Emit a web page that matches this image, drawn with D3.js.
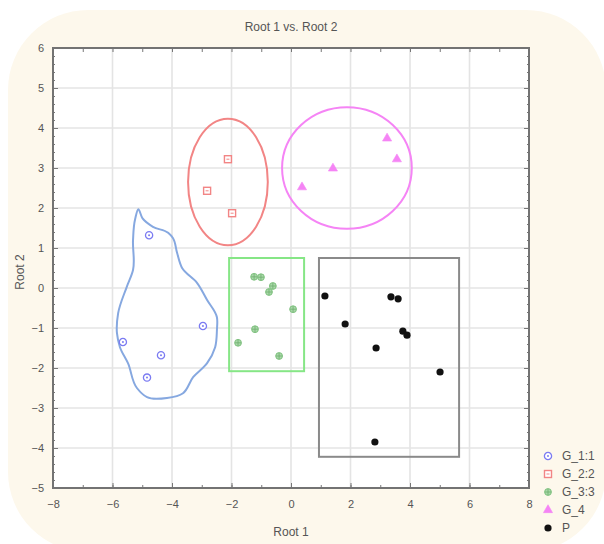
<!DOCTYPE html>
<html><head><meta charset="utf-8">
<script src="https://cdn.jsdelivr.net/npm/d3@7"></script>
<style>body{margin:0;background:#fff}svg{display:block}</style>
</head><body><svg id="c" width="604" height="544"></svg>
<script>
// ---- data ----
const title = "Root 1 vs. Root 2";
const xLabel = "Root 1";
const yLabel = "Root 2";
const xTickValues = [-8, -6, -4, -2, 0, 2, 4, 6, 8];
const yTickValues = [-5, -4, -3, -2, -1, 0, 1, 2, 3, 4, 5, 6];
const seriesNames = ["G_1:1", "G_2:2", "G_3:3", "G_4", "P"];
const g1 = [[-4.77, 1.32], [-2.96, -0.95], [-5.65, -1.35], [-4.37, -1.68], [-4.84, -2.24]];
const g2 = [[-2.12, 3.22], [-2.82, 2.43], [-1.98, 1.87]];
const g3 = [[-1.24, 0.28], [-1.01, 0.27], [-0.61, 0.05], [-0.74, -0.10], [0.07, -0.53], [-1.21, -1.03], [-1.78, -1.37], [-0.40, -1.70]];
const g4 = [[3.23, 3.74], [3.56, 3.22], [1.41, 2.99], [0.37, 2.52]];
const gP = [[1.14, -0.20], [3.36, -0.22], [3.60, -0.27], [1.82, -0.90], [3.76, -1.08], [3.90, -1.18], [2.86, -1.50], [5.01, -2.10], [2.82, -3.85]];
// hand-drawn enclosures (data units)
const blueOutline = [[-5.13,1.97],[-4.99,1.74],[-4.64,1.53],[-4.13,1.38],[-3.97,1.25],[-3.83,0.88],[-3.66,0.50],[-3.16,0.13],[-2.82,-0.30],[-2.49,-0.73],[-2.49,-1.05],[-2.55,-1.48],[-2.82,-1.88],[-3.29,-2.23],[-3.63,-2.63],[-4.17,-2.75],[-4.84,-2.73],[-5.18,-2.50],[-5.48,-1.88],[-5.75,-1.48],[-5.85,-1.13],[-5.81,-0.63],[-5.52,0.03],[-5.31,0.45],[-5.31,1.20],[-5.24,1.72]];
const redEllipse = [-2.12, 2.65, 1.34, 1.58];      // cx, cy, rx, ry
const pinkEllipse = [1.88, 3.0, 2.18, 1.52];
const greenRect = [-2.08, 0.75, 0.44, -2.08];      // x0, y0, x1, y1
const blackRect = [0.94, 0.75, 5.65, -4.22];

// ---- layout ----
const svg = d3.select("#c");
const FONT = "'Liberation Sans Narrow','Liberation Sans',Arial,sans-serif";
const L = 53, R = 529, T = 48, B = 488;
const x = d3.scaleLinear().domain([-8, 8]).range([L, R]);
const y = d3.scaleLinear().domain([-5, 6]).range([B, T]);

// cream rounded background
svg.append("rect").attr("x", 8).attr("y", 10).attr("width", 598).attr("height", 542)
  .attr("rx", 80).attr("ry", 80).attr("fill", "#fdf8ec");

svg.append("rect").attr("x", L).attr("y", T).attr("width", R - L).attr("height", B - T).attr("fill", "#fff");

// grid
const gridC = "#e4e4e4";
svg.append("g").selectAll("line").data(xTickValues.slice(1, -1)).join("line")
  .attr("x1", d => x(d)).attr("x2", d => x(d)).attr("y1", T).attr("y2", B)
  .attr("stroke", gridC).attr("stroke-width", 1.6);
svg.append("g").selectAll("line").data(yTickValues.slice(1, -1)).join("line")
  .attr("y1", d => y(d)).attr("y2", d => y(d)).attr("x1", L).attr("x2", R)
  .attr("stroke", gridC).attr("stroke-width", 1.6);

// axes
const tickC = "#777", txtC = "#555";
function styleAxis(g) {
  g.select(".domain").remove();
  g.selectAll(".tick line").attr("stroke", tickC).attr("stroke-width", 1);
  g.selectAll("text").attr("fill", txtC).attr("font-family", FONT).attr("font-size", 11);
}
const xMinor = d3.range(-8, 8.01, 1);
const yMinor = d3.range(-5, 6.01, 0.2);
svg.append("g").attr("transform", `translate(0,${B})`)
  .call(d3.axisBottom(x).tickValues(xMinor).tickSize(-3).tickFormat(""))
  .call(styleAxis);
svg.append("g").attr("transform", `translate(0,${B})`)
  .call(d3.axisBottom(x).tickValues(xTickValues).tickSize(-5).tickPadding(12).tickFormat(d3.format("d")))
  .call(styleAxis);
svg.append("g").attr("transform", `translate(0,${T})`)
  .call(d3.axisTop(x).tickValues(xMinor).tickSize(-4).tickFormat(""))
  .call(styleAxis);
svg.append("g").attr("transform", `translate(${L},0)`)
  .call(d3.axisLeft(y).tickValues(yMinor).tickSize(-2).tickFormat(""))
  .call(styleAxis);
svg.append("g").attr("transform", `translate(${L},0)`)
  .call(d3.axisLeft(y).tickValues(yTickValues).tickSize(-5).tickPadding(9).tickFormat(d3.format("d")))
  .call(styleAxis);
svg.append("g").attr("transform", `translate(${R},0)`)
  .call(d3.axisRight(y).tickValues(yMinor).tickSize(-2).tickFormat(""))
  .call(styleAxis);
svg.append("g").attr("transform", `translate(${R},0)`)
  .call(d3.axisRight(y).tickValues(yTickValues).tickSize(-5).tickFormat(""))
  .call(styleAxis);

// frame
svg.append("rect").attr("x", L).attr("y", T).attr("width", R - L).attr("height", B - T)
  .attr("fill", "none").attr("stroke", "#737373").attr("stroke-width", 2);

// titles
svg.append("text").attr("x", 291).attr("y", 31).attr("text-anchor", "middle")
  .attr("font-family", FONT).attr("font-size", 12).attr("fill", txtC).text(title);
svg.append("text").attr("x", 291).attr("y", 536).attr("text-anchor", "middle")
  .attr("font-family", FONT).attr("font-size", 12).attr("fill", txtC).text(xLabel);
svg.append("text").attr("transform", "translate(24,272) rotate(-90)").attr("text-anchor", "middle")
  .attr("font-family", FONT).attr("font-size", 12).attr("fill", txtC).text(yLabel);

// enclosures
const blueLine = "#86a8e0", redC = "#f28585", pinkC = "#f584f5", greenLine = "#86e686", greyLine = "#8a8a8a";
svg.append("path").datum(blueOutline)
  .attr("d", d3.line().x(d => x(d[0])).y(d => y(d[1])).curve(d3.curveCatmullRomClosed.alpha(1)))
  .attr("fill", "none").attr("stroke", blueLine).attr("stroke-width", 2).attr("stroke-linejoin", "round");
svg.append("ellipse").attr("cx", x(redEllipse[0])).attr("cy", y(redEllipse[1]))
  .attr("rx", x(redEllipse[0] + redEllipse[2]) - x(redEllipse[0])).attr("ry", y(redEllipse[1] - redEllipse[3]) - y(redEllipse[1]))
  .attr("fill", "none").attr("stroke", redC).attr("stroke-width", 2);
svg.append("ellipse").attr("cx", x(pinkEllipse[0])).attr("cy", y(pinkEllipse[1]))
  .attr("rx", x(pinkEllipse[0] + pinkEllipse[2]) - x(pinkEllipse[0])).attr("ry", y(pinkEllipse[1] - pinkEllipse[3]) - y(pinkEllipse[1]))
  .attr("fill", "none").attr("stroke", pinkC).attr("stroke-width", 2);
svg.append("rect").attr("x", x(greenRect[0])).attr("y", y(greenRect[1]))
  .attr("width", x(greenRect[2]) - x(greenRect[0])).attr("height", y(greenRect[3]) - y(greenRect[1]))
  .attr("fill", "none").attr("stroke", greenLine).attr("stroke-width", 2);
svg.append("rect").attr("x", x(blackRect[0])).attr("y", y(blackRect[1]))
  .attr("width", x(blackRect[2]) - x(blackRect[0])).attr("height", y(blackRect[3]) - y(blackRect[1]))
  .attr("fill", "none").attr("stroke", greyLine).attr("stroke-width", 2);

// markers
const blueC = "#7b7bf2", greenC = "#7fc27f";
function drawMarker(g, kind) {
  if (kind === 0) {
    g.append("circle").attr("r", 3.6).attr("fill", "#fff").attr("stroke", blueC).attr("stroke-width", 1.3);
    g.append("circle").attr("r", 1).attr("fill", blueC);
  } else if (kind === 1) {
    g.append("rect").attr("x", -3.5).attr("y", -3.5).attr("width", 7).attr("height", 7)
      .attr("fill", "#fff").attr("stroke", redC).attr("stroke-width", 1.4);
    g.append("line").attr("x1", -1.5).attr("x2", 1.5).attr("stroke", redC).attr("stroke-width", 1);
  } else if (kind === 2) {
    g.append("circle").attr("r", 3.4).attr("fill", "#a9d8a9").attr("stroke", greenC).attr("stroke-width", 1);
    g.append("path").attr("d", "M-3,0H3M0,-3V3").attr("stroke", "#6faf6f").attr("stroke-width", 0.8);
  } else if (kind === 3) {
    g.append("path").attr("d", d3.symbol(d3.symbolTriangle, 36)()).attr("fill", pinkC).attr("stroke", pinkC).attr("stroke-width", 0.6);
  } else {
    g.append("circle").attr("r", 3.6).attr("fill", "#111");
  }
}
const allSeries = [g1, g2, g3, g4, gP];
allSeries.forEach((pts, i) => {
  svg.append("g").selectAll("g").data(pts).join("g")
    .attr("transform", d => `translate(${x(d[0])},${y(d[1])})`)
    .each(function () { drawMarker(d3.select(this), i); });
});

// legend
const leg = svg.append("g");
seriesNames.forEach((name, i) => {
  const yy = 456 + i * 18;
  const m = leg.append("g").attr("transform", `translate(548,${yy})`);
  drawMarker(m, i);
  leg.append("text").attr("x", 562).attr("y", yy + 4).attr("font-family", FONT).attr("font-size", 12)
    .attr("fill", txtC).text(name);
});
</script></body></html>
